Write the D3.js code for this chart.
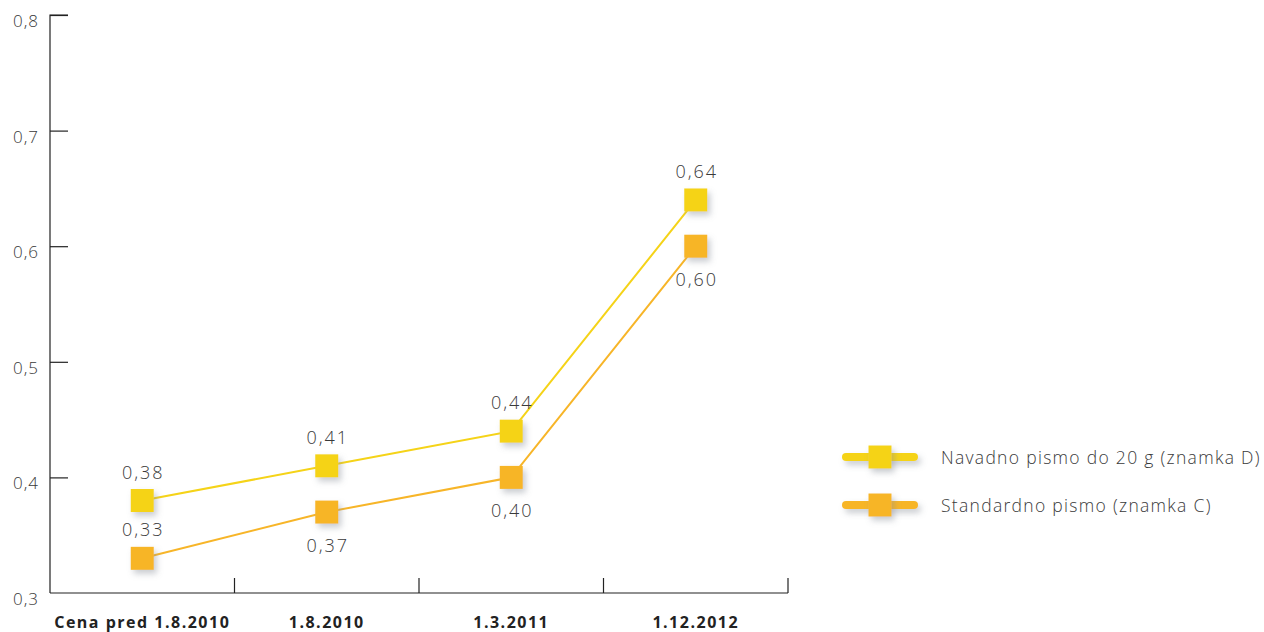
<!DOCTYPE html>
<html><head><meta charset="utf-8">
<script src="https://cdn.jsdelivr.net/npm/d3@7"></script>
<style>body{margin:0;background:#fff}svg{display:block}</style>
</head><body>
<svg id="c" width="1264" height="632"></svg>
<script>
const categories = ["Cena pred 1.8.2010", "1.8.2010", "1.3.2011", "1.12.2012"];
const seriesNames = ["Navadno pismo do 20 g (znamka D)", "Standardno pismo (znamka C)"];
const navadno = [0.38, 0.41, 0.44, 0.64];
const standardno = [0.33, 0.37, 0.40, 0.60];
const yTicks = [0.3, 0.4, 0.5, 0.6, 0.7, 0.8];
const labelPos = [["above","above","above","above"],["above","below","below","below"]];
const colors = ["#F5D318", "#F7B528"];

const svg = d3.select("#c");
const pLeft = 50, pRight = 788, pTop = 15, pBottom = 593;
const x = d3.scaleBand().domain(categories).range([pLeft, pRight]);
const y = d3.scaleLinear().domain([0.3, 0.8]).range([pBottom, pTop]);
const font = "'Open Sans', 'Noto Sans', sans-serif";

const defs = svg.append("defs");
const f = defs.append("filter").attr("id","sh").attr("filterUnits","userSpaceOnUse")
  .attr("x",0).attr("y",0).attr("width",1264).attr("height",632);
f.append("feDropShadow").attr("dx",3).attr("dy",4).attr("stdDeviation",3).attr("flood-color","#8a8f9a").attr("flood-opacity",0.45);

// Y axis
const yAxis = d3.axisRight(y).tickValues(yTicks).tickSize(18).tickFormat("");
const gy = svg.append("g").attr("transform",`translate(${pLeft},0)`).call(yAxis);
gy.select(".domain").attr("stroke","#222").attr("stroke-width",1.2).attr("d",`M18,${pTop}H0V${pBottom}`);
gy.selectAll(".tick line").attr("stroke","#222").attr("stroke-width",1.2);
gy.selectAll(".tick").filter(d=>d===0.3).select("line").remove();
svg.append("g").selectAll("text").data(yTicks).join("text")
  .attr("x",39).attr("y",d=>y(d)+12).attr("text-anchor","end")
  .attr("font-family",font).attr("font-weight",300).attr("font-size",17).attr("letter-spacing",1).attr("fill","#3a3a3a")
  .text(d=>d3.format(".1f")(d).replace(".",","));

// X axis
const gx = svg.append("g").attr("transform",`translate(0,${pBottom})`)
  .call(d3.axisTop(x).tickSize(0).tickFormat(""));
gx.select(".domain").attr("stroke","#222").attr("stroke-width",1.2).attr("d",`M${pLeft},0H${pRight}`);
gx.selectAll(".tick").remove();
const bounds = categories.slice(1).map(c=>x(c)).concat([pRight]);
gx.selectAll("line.sep").data(bounds).join("line").attr("class","sep")
  .attr("x1",d=>d).attr("x2",d=>d).attr("y1",0).attr("y2",-15).attr("stroke","#222").attr("stroke-width",1.2);
svg.append("g").selectAll("text").data(categories).join("text")
  .attr("x",d=>x(d)+x.bandwidth()/2).attr("y",628).attr("text-anchor","middle")
  .attr("font-family",font).attr("font-weight",700).attr("font-size",16).attr("letter-spacing",1.5).attr("fill","#222")
  .text(d=>d);

// Series
const series = [navadno, standardno];
const cx = d=>x(d)+x.bandwidth()/2;
const line = d3.line().x((d,i)=>cx(categories[i])).y(d=>y(d));
series.forEach((s,k)=>{
  svg.append("path").attr("d",line(s)).attr("fill","none").attr("stroke",colors[k]).attr("stroke-width",2);
});
series.forEach((s,k)=>{
  const g = svg.append("g");
  g.selectAll("rect").data(s).join("rect")
    .attr("x",(d,i)=>cx(categories[i])-11.5).attr("y",d=>y(d)-11.5)
    .attr("width",23).attr("height",23).attr("fill",colors[k]).attr("filter","url(#sh)");
  g.selectAll("text").data(s).join("text")
    .attr("x",(d,i)=>cx(categories[i])+1).attr("y",(d,i)=>labelPos[k][i]==="above"? y(d)-22 : y(d)+40)
    .attr("text-anchor","middle").attr("font-family",font).attr("font-weight",300).attr("font-size",18).attr("letter-spacing",2).attr("fill","#3a3a3a")
    .text(d=>d3.format(".2f")(d).replace(".",","));
});

// Legend
const lg = svg.append("g");
seriesNames.forEach((n,k)=>{
  const ly = 457 + k*48;
  lg.append("rect").attr("x",842).attr("y",ly-4).attr("width",76).attr("height",8).attr("rx",4)
    .attr("fill",colors[k]).attr("filter","url(#sh)");
  lg.append("rect").attr("x",868.5).attr("y",ly-11.5).attr("width",23).attr("height",23).attr("fill",colors[k]).attr("filter","url(#sh)");
  lg.append("text").attr("x",941).attr("y",ly+7).attr("font-family",font).attr("font-weight",300).attr("font-size",17.5).attr("letter-spacing",1.3).attr("fill","#3a3a3a").text(n);
});
</script>
</body></html>
